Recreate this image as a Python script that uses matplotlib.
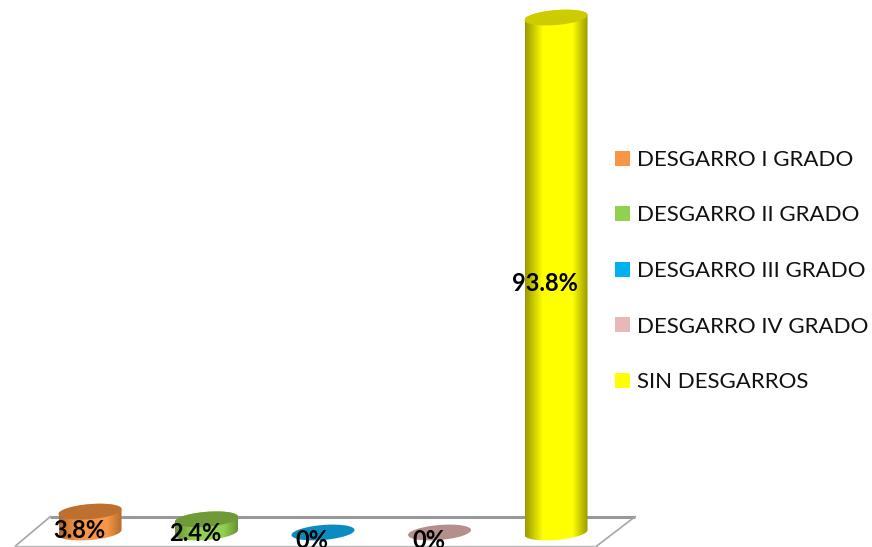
import numpy as np
from matplotlib import pyplot as plt
from matplotlib.colors import LinearSegmentedColormap
from matplotlib.patches import Patch, Polygon

# Chart data
categories = ["DESGARRO I GRADO", "DESGARRO II GRADO", "DESGARRO III GRADO",
              "DESGARRO IV GRADO", "SIN DESGARROS"]
values = [3.8, 2.4, 0, 0, 93.8]
value_labels = ["3.8%", "2.4%", "0%", "0%", "93.8%"]

# Styling
legend_colors = ["#F79646", "#92D050", "#00B0F0", "#E6B9B8", "#FFFF00"]
top_colors = ["#BD7030", "#709A38", "#0A8CC0", "#B58F8C", "#CCCC00"]
edge_colors = ["#B0682C", "#668F34", "#0A7CA8", "#A08080", "#9A9A00"]

PX_X = 116.5  # pixels per category
PX_Y = 5.49   # pixels per percentage point
X0_PX = 90    # pixel column of the first category
Y0_PX = 532.5  # pixel row of value zero
W, H = 872, 547
BAR_HALF = 31.5 / PX_X
ELL_B = 7.5 / PX_Y
ELL_TILT = 2.5 / PX_Y
FONT = "Lato"


def rim(x, y, t):
    """ Points on the tilted elliptical rim of a cylinder.
    """
    return x + BAR_HALF * np.cos(t), y + ELL_B * np.sin(t) + ELL_TILT * np.cos(t)


fig = plt.figure(figsize=(W / 100, H / 100), dpi=100)
ax = fig.add_axes([0, 0, 1, 1])

# Floor of the 3D chart
ax.plot([-0.34, 4.68], [2.9, 2.9], color="#999999", lw=2.2, zorder=1, solid_capstyle="butt")
ax.plot([-0.34, -0.64], [2.9, -2.45], color="#A6A6A6", lw=1.2, zorder=1)
ax.plot([4.68, 4.35], [2.9, -2.45], color="#A6A6A6", lw=1.2, zorder=1)
ax.plot([-0.64, 4.35], [-2.45, -2.45], color="#BBBBBB", lw=1.0, zorder=1)

# Cylinders
for i, value in enumerate(values):
    if value > 0:
        t_low = np.linspace(np.pi, 2 * np.pi, 60)
        t_up = np.linspace(0, np.pi, 60)
        xb, yb = rim(i, 0, t_low)
        xt, yt = rim(i, value, t_up)
        body = Polygon(np.column_stack([np.r_[xb, xt], np.r_[yb, yt]]),
                       closed=True, transform=ax.transData, facecolor="none", edgecolor="none")
        ax.add_patch(body)
        cmap = LinearSegmentedColormap.from_list(
            "shade", [(0, edge_colors[i]), (0.28, legend_colors[i]),
                      (0.76, legend_colors[i]), (1, edge_colors[i])])
        grad = np.linspace(0, 1, 128)[None, :]
        img = ax.imshow(grad, cmap=cmap, aspect="auto", vmin=0, vmax=1, zorder=2,
                        extent=[i - BAR_HALF, i + BAR_HALF, -3, value + 3])
        img.set_clip_path(body)
    t = np.linspace(0, 2 * np.pi, 120)
    xe, ye = rim(i, value, t)
    ax.fill(xe, ye, color=top_colors[i], lw=0, zorder=3)

# Value labels
for i, value in enumerate(values):
    ax.annotate(value_labels[i], xy=(i, value / 2), xytext=(-8.0, -5.8), textcoords="offset points",
                ha="center", va="center", fontsize=17, fontweight="bold", family=FONT,
                color="black", zorder=5, annotation_clip=False)

ax.set_xlim(-X0_PX / PX_X, (W - X0_PX) / PX_X)
ax.set_ylim(-(H - Y0_PX) / PX_Y, Y0_PX / PX_Y)
ax.axis("off")

# Legend
handles = [Patch(facecolor=c, edgecolor="none", label=n) for c, n in zip(legend_colors, categories)]
ax.legend(handles=handles, loc="center left", bbox_to_anchor=(615 / W, 1 - 271 / H),
          frameon=False, borderaxespad=0, borderpad=0,
          prop={"family": FONT, "size": 16.0}, handlelength=0.675, handleheight=0.675,
          handletextpad=0.32, labelspacing=1.6, labelcolor="#111111")

fig.savefig("out.png", dpi=100)
